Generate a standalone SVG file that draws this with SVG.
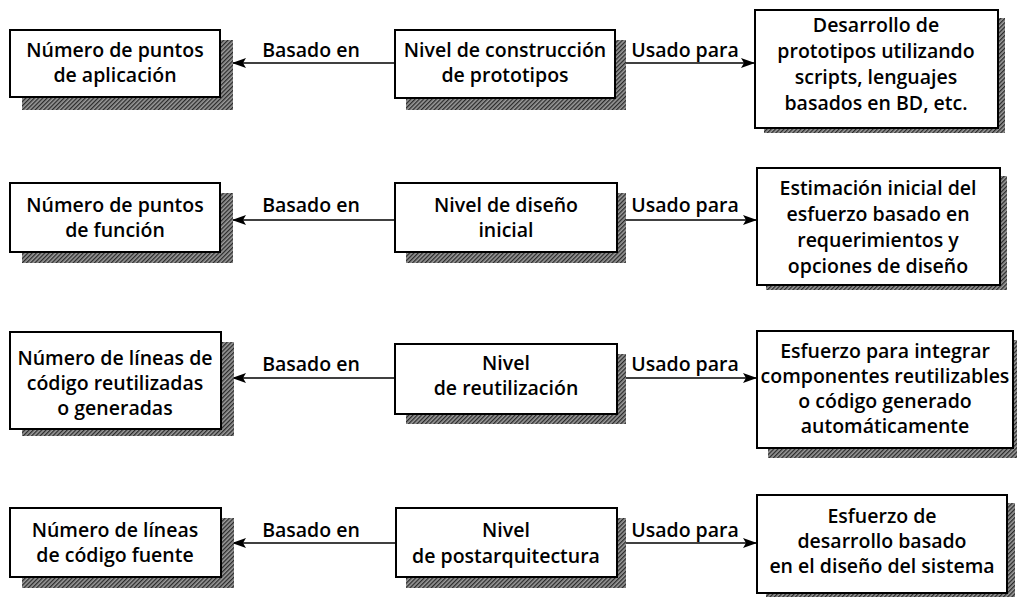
<svg xmlns="http://www.w3.org/2000/svg" width="1017" height="597" viewBox="0 0 1017 597">
<style>
.box{fill:#fff;stroke:#000;stroke-width:2}
.sh{fill:url(#hatch)}
.t{font-family:"Open Sans","Liberation Sans",sans-serif;font-weight:600;font-size:19.5px;fill:#000;text-anchor:middle}
.lbl{font-family:"Open Sans","Liberation Sans",sans-serif;font-weight:600;font-size:19.5px;fill:#000;text-anchor:middle}
.ln{stroke:#000;stroke-width:1.6;fill:none}
</style>
<defs>
<pattern id="hatch" width="3" height="3" patternUnits="userSpaceOnUse" patternTransform="rotate(45)">
<rect width="3" height="3" fill="#9a9a9a"/>
<rect width="1.3" height="3" fill="#2a2a2a"/>
</pattern>
<marker id="ah" viewBox="0 0 14 10" refX="14" refY="5" markerWidth="14" markerHeight="10" markerUnits="userSpaceOnUse" orient="auto">
<path d="M0,0 L14,5 L0,10 L3,5 Z" fill="#000"/>
</marker>
</defs>
<rect width="1017" height="597" fill="#fff"/>

<g id="connectors">
<line class="ln" x1="395" y1="63" x2="232" y2="63" marker-end="url(#ah)"/>
<line class="ln" x1="616" y1="63" x2="755" y2="63" marker-end="url(#ah)"/>
<line class="ln" x1="395" y1="220" x2="232" y2="220" marker-end="url(#ah)"/>
<line class="ln" x1="617" y1="220" x2="757" y2="220" marker-end="url(#ah)"/>
<line class="ln" x1="395" y1="378" x2="232" y2="378" marker-end="url(#ah)"/>
<line class="ln" x1="617" y1="378" x2="757" y2="378" marker-end="url(#ah)"/>
<line class="ln" x1="396" y1="543" x2="232" y2="543" marker-end="url(#ah)"/>
<line class="ln" x1="617" y1="543" x2="757" y2="543" marker-end="url(#ah)"/>
<text class="lbl" x="311" y="57">Basado en</text>
<text class="lbl" x="685" y="57">Usado para</text>
<text class="lbl" x="311" y="212">Basado en</text>
<text class="lbl" x="685" y="212">Usado para</text>
<text class="lbl" x="311" y="371">Basado en</text>
<text class="lbl" x="685" y="371">Usado para</text>
<text class="lbl" x="311" y="537">Basado en</text>
<text class="lbl" x="685" y="537">Usado para</text>
</g>

<g id="n-puntos-aplicacion">
<rect class="sh" x="22" y="40" width="211" height="70"/>
<rect class="box" x="10" y="30" width="210" height="67"/>
<text class="t" x="115" y="57">Número de puntos</text>
<text class="t" x="115" y="82">de aplicación</text>
</g>
<g id="n-nivel-prototipos">
<rect class="sh" x="406" y="40" width="220" height="70"/>
<rect class="box" x="395" y="30" width="220" height="68"/>
<text class="t" x="505" y="57">Nivel de construcción</text>
<text class="t" x="505" y="82">de prototipos</text>
</g>
<g id="n-desarrollo-prototipos">
<rect class="sh" x="764" y="18" width="241" height="115"/>
<rect class="box" x="755" y="10" width="243" height="118"/>
<text class="t" x="876" y="32">Desarrollo de</text>
<text class="t" x="876" y="58">prototipos utilizando</text>
<text class="t" x="876" y="84">scripts, lenguajes</text>
<text class="t" x="876" y="110">basados en BD, etc.</text>
</g>

<g id="n-puntos-funcion">
<rect class="sh" x="22" y="193" width="211" height="70"/>
<rect class="box" x="10" y="183" width="210" height="69"/>
<text class="t" x="115" y="212">Número de puntos</text>
<text class="t" x="115" y="237">de función</text>
</g>
<g id="n-nivel-diseno">
<rect class="sh" x="406" y="193" width="220" height="70"/>
<rect class="box" x="395" y="183" width="222" height="69"/>
<text class="t" x="506" y="212">Nivel de diseño</text>
<text class="t" x="506" y="237">inicial</text>
</g>
<g id="n-estimacion">
<rect class="sh" x="766" y="176" width="241" height="114"/>
<rect class="box" x="757" y="168" width="243" height="117"/>
<text class="t" x="878" y="195">Estimación inicial del</text>
<text class="t" x="878" y="221">esfuerzo basado en</text>
<text class="t" x="878" y="247">requerimientos y</text>
<text class="t" x="878" y="273">opciones de diseño</text>
</g>

<g id="n-lineas-reutilizadas">
<rect class="sh" x="22" y="342" width="212" height="94"/>
<rect class="box" x="10" y="332" width="211" height="97"/>
<text class="t" x="115" y="365">Número de líneas de</text>
<text class="t" x="115" y="390">código reutilizadas</text>
<text class="t" x="115" y="415">o generadas</text>
</g>
<g id="n-nivel-reutilizacion">
<rect class="sh" x="406" y="354" width="220" height="70"/>
<rect class="box" x="395" y="344" width="222" height="70"/>
<text class="t" x="506" y="370">Nivel</text>
<text class="t" x="506" y="395">de reutilización</text>
</g>
<g id="n-esfuerzo-integrar">
<rect class="sh" x="768" y="340" width="249" height="118"/>
<rect class="box" x="757" y="331" width="256" height="117"/>
<text class="t" x="885" y="358">Esfuerzo para integrar</text>
<text class="t" x="885" y="383">componentes reutilizables</text>
<text class="t" x="885" y="408">o código generado</text>
<text class="t" x="885" y="433">automáticamente</text>
</g>

<g id="n-lineas-fuente">
<rect class="sh" x="22" y="518" width="212" height="70"/>
<rect class="box" x="10" y="508" width="211" height="69"/>
<text class="t" x="115" y="537">Número de líneas</text>
<text class="t" x="115" y="562">de código fuente</text>
</g>
<g id="n-nivel-postarquitectura">
<rect class="sh" x="406" y="518" width="220" height="70"/>
<rect class="box" x="396" y="508" width="221" height="69"/>
<text class="t" x="506" y="537">Nivel</text>
<text class="t" x="506" y="563">de postarquitectura</text>
</g>
<g id="n-esfuerzo-desarrollo">
<rect class="sh" x="766" y="503" width="249" height="94"/>
<rect class="box" x="757" y="495" width="250" height="98"/>
<text class="t" x="882" y="523">Esfuerzo de</text>
<text class="t" x="882" y="548">desarrollo basado</text>
<text class="t" x="882" y="573">en el diseño del sistema</text>
</g>
</svg>
